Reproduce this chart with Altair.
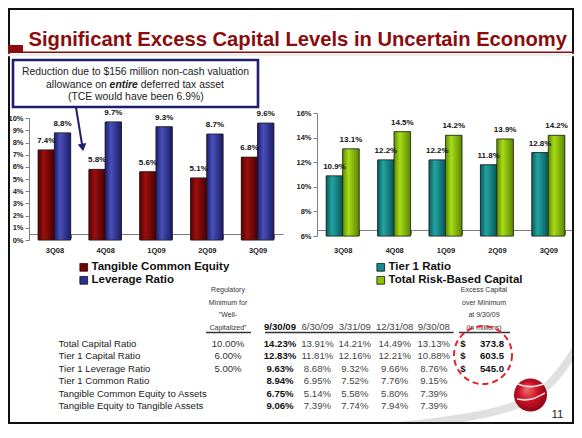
import altair as alt
import pandas as pd

# ---------------- data ----------------
quarters = ["3Q08", "4Q08", "1Q09", "2Q09", "3Q09"]

left_series = ["Tangible Common Equity", "Leverage Ratio"]
tce_ratio = [7.4, 5.8, 5.6, 5.1, 6.8]
leverage_ratio = [8.8, 9.7, 9.3, 8.7, 9.6]
left_ticks = [0, 1, 2, 3, 4, 5, 6, 7, 8, 9, 10]

right_series = ["Tier 1 Ratio", "Total Risk-Based Capital"]
tier1_ratio = [10.9, 12.2, 12.2, 11.8, 12.8]
total_rbc_ratio = [13.1, 14.5, 14.2, 13.9, 14.2]
right_ticks = [6, 8, 10, 12, 14, 16]

title_text = "Significant Excess Capital Levels in Uncertain Economy"
note_line1 = "Reduction due to $156 million non-cash valuation"
note_line2 = ["allowance on", "entire", "deferred tax asset"]
note_line3 = "(TCE would have been 6.9%)"

row_labels = [
    "Total Capital Ratio",
    "Tier 1 Capital Ratio",
    "Tier 1 Leverage Ratio",
    "Tier 1 Common Ratio",
    "Tangible Common Equity to Assets",
    "Tangible Equity to Tangible Assets",
]
reg_min_header = ["Regulatory", "Minimum for", "\"Well-", "Capitalized\""]
reg_min = ["10.00%", "6.00%", "5.00%", "", "", ""]
dates = ["9/30/09", "6/30/09", "3/31/09", "12/31/08", "9/30/08"]
ratio_0930_09 = [14.23, 12.83, 9.63, 8.94, 6.75, 9.06]
ratio_0630_09 = [13.91, 11.81, 8.68, 6.95, 5.14, 7.39]
ratio_0331_09 = [14.21, 12.16, 9.32, 7.52, 5.58, 7.74]
ratio_1231_08 = [14.49, 12.21, 9.66, 7.76, 5.80, 7.94]
ratio_0930_08 = [13.13, 10.88, 8.76, 9.15, 7.39, 7.39]
excess_header = ["Excess Capital", "over Minimum", "at 9/30/09", "(in millions)"]
excess_capital = [373.8, 603.5, 545.0]
page_number = "11"

# ---------------- layout / style ----------------
W, H = 566, 416
FONT = "Liberation Sans"
DARK_RED = "#8C0C0C"
NAVY = "#1F1F70"


def lin(c0, c1, c2):
    return alt.LinearGradient(
        gradient="linear", x1=0, x2=1, y1=0, y2=0,
        stops=[alt.GradientStop(offset=0, color=c0),
               alt.GradientStop(offset=0.35, color=c1),
               alt.GradientStop(offset=1, color=c2)])


def one():
    return pd.DataFrame({"a": [0]})


def txt(text, x, y, size=10, weight="normal", color="#222", align="center",
        baseline="middle", style=None):
    kw = dict(fontSize=size, fontWeight=weight, color=color, align=align,
              baseline=baseline, font=FONT)
    if style:
        kw["fontStyle"] = style
    return alt.Chart(pd.DataFrame({"t": [text]})).mark_text(**kw).encode(
        x=alt.value(x), y=alt.value(y), text="t:N")


def bar_panel(values_a, values_b, series, colors, grads, x_range, y_domain,
              y_range, ticks, x_off, y_off, leg_x, leg_y, x_label_pad):
    df = pd.DataFrame({
        "quarter": quarters * 2,
        "series": [series[0]] * len(quarters) + [series[1]] * len(quarters),
        "value": values_a + values_b,
    })
    x = alt.X("quarter:N", sort=quarters,
              scale=alt.Scale(domain=quarters, range=x_range,
                              paddingInner=0.36, paddingOuter=0.18),
              axis=alt.Axis(orient="bottom", offset=x_off, title=None,
                            labelAngle=0, tickBand="extent", tickSize=4,
                            domainColor="#7f7f7f", tickColor="#7f7f7f",
                            labelFontSize=7.5, labelFontWeight="bold",
                            labelColor="#222", labelPadding=x_label_pad,
                            labelFont=FONT, grid=False))
    y = alt.Y("value:Q",
              scale=alt.Scale(domain=y_domain, range=y_range, nice=False,
                              zero=False),
              axis=alt.Axis(orient="left", offset=y_off, title=None,
                            values=ticks, labelExpr="datum.value + '%'",
                            tickSize=4, domainColor="#7f7f7f",
                            tickColor="#7f7f7f", labelFontSize=7.5,
                            labelFontWeight="bold", labelColor="#222",
                            labelPadding=2, labelFont=FONT, grid=False))
    xo = alt.XOffset("series:N", sort=series,
                     scale=alt.Scale(domain=series))
    y2 = alt.datum(y_domain[0])
    base = alt.Chart(df).mark_bar(stroke="#1a1a1a", strokeWidth=0.6).encode(
        x=x, xOffset=xo, y=y, y2=y2,
        color=alt.Color("series:N",
                        scale=alt.Scale(domain=series, range=colors),
                        legend=alt.Legend(
                            orient="none", legendX=leg_x, legendY=leg_y,
                            title=None, symbolType="square", symbolSize=60,
                            symbolStrokeColor="#111", symbolStrokeWidth=0.8,
                            labelFont=FONT, labelFontSize=11.5,
                            labelFontWeight="bold", labelColor="#111",
                            labelOffset=2, rowPadding=0, clipHeight=9.6,
                            padding=0, direction="vertical")))
    overlays = [
        alt.Chart(df).transform_filter(alt.datum.series == s)
        .mark_bar(color=g, stroke="#1a1a1a", strokeWidth=0.6)
        .encode(x=x, xOffset=xo, y=y, y2=y2)
        for s, g in zip(series, grads)
    ]
    labels = (alt.Chart(df)
              .transform_calculate(label="format(datum.value, '.1f') + '%'")
              .mark_text(fontSize=8, fontWeight="bold", baseline="middle",
                         dy=-9, color="#111", font=FONT)
              .encode(x=x, xOffset=xo, y=y, text="label:N"))
    return alt.layer(base, *overlays, labels)


left_panel = bar_panel(
    tce_ratio, leverage_ratio, left_series, ["#7B0000", "#2E3092"],
    [lin("#5a0000", "#9a1010", "#4a0000"), lin("#1c1f70", "#4a4fb8", "#1a1c66")],
    [21, 275], [0, 10], [232, 110.3], left_ticks, -190, -21, 70, 254.5, 8)

right_panel = bar_panel(
    tier1_ratio, total_rbc_ratio, right_series, ["#148C8C", "#8DC000"],
    [lin("#0a5d5d", "#23a3a3", "#095656"), lin("#5e8c00", "#a9dc18", "#5a8600")],
    [309, 566], [6, 16], [228, 105.3], right_ticks, -194, -309, 367, 254.5, 12)

# ---------------- table ----------------
ratio_cols = [ratio_0930_09, ratio_0630_09, ratio_0331_09, ratio_1231_08,
              ratio_0930_08]
n_ex = len(excess_capital)
table_df = pd.DataFrame({"row": row_labels, "reg": reg_min})
for i, vals in enumerate(ratio_cols):
    table_df[f"d{i}"] = [f"{v:.2f}%" for v in vals]
table_df["dollar"] = ["$"] * n_ex + [""] * (len(row_labels) - n_ex)
table_df["excess"] = [f"{v:.1f}" for v in excess_capital] + [""] * (len(row_labels) - n_ex)

row_y = alt.Y("row:N", sort=row_labels,
              scale=alt.Scale(type="point", domain=row_labels,
                              range=[335.5, 398], padding=0),
              axis=None)


def col(field, xpx, align="center", bold=False, color="#333"):
    return alt.Chart(table_df).mark_text(
        align=align, baseline="middle", fontSize=9.6, font=FONT,
        fontWeight="bold" if bold else "normal", color=color
    ).encode(x=alt.value(xpx), y=row_y, text=f"{field}:N")


date_x = [272, 309.4, 346.8, 386.7, 425.8]
table_layers = [col("row", 50.5, align="left", color="#222"),
                col("reg", 220)]
for i, dx in enumerate(date_x):
    table_layers.append(col(f"d{i}", dx, bold=(i == 0),
                            color="#111" if i == 0 else "#444"))
table_layers.append(col("dollar", 455, bold=True, color="#111"))
table_layers.append(col("excess", 496, align="right", bold=True, color="#111"))
table = alt.layer(*table_layers)

header_y = [282, 294.5, 307, 319.5]
headers = []
for line, hy in zip(reg_min_header, header_y):
    headers.append(txt(line, 220, hy, size=7, color="#333"))
for line, hy in zip(excess_header, header_y):
    headers.append(txt(line, 476, hy, size=7, color="#333"))
for i, (d, dx) in enumerate(zip(dates, date_x)):
    headers.append(txt(d, dx, 318.5, size=9.6,
                       weight="bold" if i == 0 else "normal",
                       color="#111" if i == 0 else "#444"))


def hline(x1, x2, y, color="#333", width=1.5):
    return alt.Chart(one()).mark_rule(color=color, strokeWidth=width).encode(
        x=alt.value(x1), x2=alt.value(x2), y=alt.value(y))


underlines = [hline(198, 243, 324.5), hline(257, 445.6, 324.5),
              hline(451, 502, 324.5)]

# ---------------- decorations ----------------
slide_x = alt.Scale(domain=[0, W], range=[0, W])
slide_y = alt.Scale(domain=[0, H], range=[0, H])

swoosh_df = pd.DataFrame({
    "x": [330, 395, 460, 510, 545, 572],
    "y": [423, 418, 410, 399, 377, 335],
})
swoosh = alt.Chart(swoosh_df).mark_line(
    color="#E0E0E0", strokeWidth=8, interpolate="basis", strokeCap="round"
).encode(x=alt.X("x:Q", scale=slide_x, axis=None),
         y=alt.Y("y:Q", scale=slide_y, axis=None))

frame = alt.Chart(one()).mark_rect(
    fill="white", fillOpacity=0, stroke="#111", strokeWidth=2
).encode(x=alt.value(1), x2=alt.value(W - 1), y=alt.value(1),
         y2=alt.value(H - 1))

title = txt(title_text, 20.5, 38, size=20.2, weight="bold", color=DARK_RED,
            align="left", baseline="alphabetic")
title_block = alt.Chart(one()).mark_rect(color=DARK_RED).encode(
    x=alt.value(0), x2=alt.value(15), y=alt.value(37), y2=alt.value(45))
title_line = hline(0, W, 44.3, color=DARK_RED, width=1.6)
title_shadow = hline(0, W, 47, color="#EDEDED", width=2.5)

note_box = alt.Chart(one()).mark_rect(
    fill="white", stroke=NAVY, strokeWidth=2.6
).encode(x=alt.value(5), x2=alt.value(250), y=alt.value(52), y2=alt.value(99))
note_texts = [
    txt(note_line1, 127.5, 64, size=10.4),
    txt(note_line2[0], 98.7, 76.5, size=10.4, align="right"),
    txt(note_line2[1], 101.6, 76.5, size=10.4, weight="bold", style="italic",
        align="left"),
    txt(note_line2[2], 132.8, 76.5, size=10.4, align="left"),
    txt(note_line3, 127.8, 89, size=10.4),
]
arrow_shaft = alt.Chart(one()).mark_rule(color=NAVY, strokeWidth=2).encode(
    x=alt.value(68), y=alt.value(99.5), x2=alt.value(74.3), y2=alt.value(138))
arrow_head = alt.Chart(one()).mark_point(
    shape="triangle-down", filled=True, color=NAVY, size=75, angle=351,
    opacity=1
).encode(x=alt.value(74.6), y=alt.value(139.5))

circle = alt.Chart(one()).mark_point(
    shape="circle", filled=False, color="#E8202A", size=58 * 58,
    strokeWidth=2, strokeDash=[6, 4], opacity=1
).encode(x=alt.value(475), y=alt.value(347))

sphere = alt.Chart(one()).mark_point(
    shape="circle", filled=True, size=33 * 33, opacity=1,
    fill=alt.RadialGradient(
        gradient="radial", x1=0.38, y1=0.32, r1=0, x2=0.5, y2=0.5, r2=0.62,
        stops=[alt.GradientStop(offset=0, color="#F27070"),
               alt.GradientStop(offset=0.45, color="#CC1428"),
               alt.GradientStop(offset=1, color="#7A0010")])
).encode(x=alt.value(522.5), y=alt.value(387))

stripe_df = pd.DataFrame({
    "x": [510, 521, 536, 509, 522, 537],
    "y": [376, 380, 376, 391, 393, 385],
    "k": ["a", "a", "a", "b", "b", "b"],
})
stripes = alt.Chart(stripe_df).mark_line(
    color="white", strokeWidth=1.6, interpolate="basis", opacity=0.85
).encode(x=alt.X("x:Q", scale=slide_x, axis=None),
         y=alt.Y("y:Q", scale=slide_y, axis=None), detail="k:N")

page_no = txt(page_number, 549.5, 407, size=11.5, color="#222")

chart = alt.layer(
    swoosh, frame, title_shadow, title_line, title_block, title,
    left_panel, right_panel, note_box, *note_texts, arrow_shaft, arrow_head,
    *headers, *underlines, table, circle, sphere, stripes, page_no,
).resolve_scale(
    x="independent", y="independent", color="independent",
    xOffset="independent"
).properties(
    width=W, height=H, autosize=alt.AutoSizeParams(type="none"), padding=0,
    background="white"
).configure_view(stroke=None).configure(font=FONT)

chart.save("out.html", embed_options={"renderer": "svg", "actions": False})
